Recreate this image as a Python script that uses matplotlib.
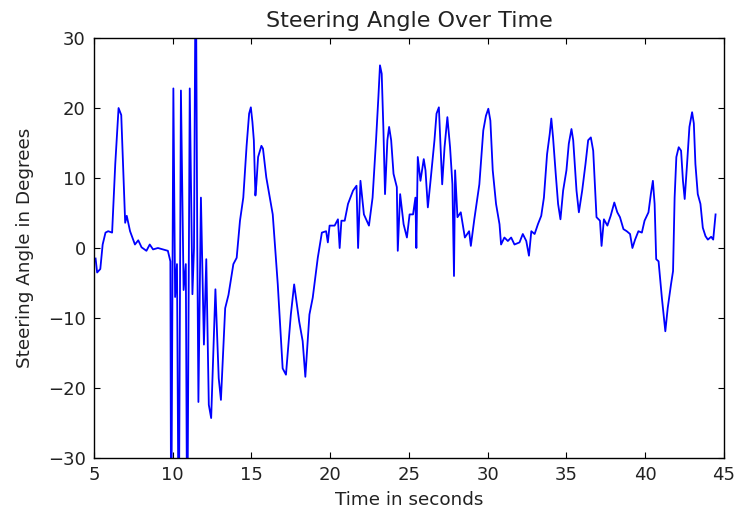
import matplotlib
matplotlib.use('Agg')
import matplotlib.pyplot as plt

# time (s) and steering angle (deg)
time_s = [
    5.1, 5.2, 5.4, 5.55, 5.73, 5.9, 6.15, 6.35, 6.56, 6.73, 6.88, 6.98, 7.08, 7.29,
    7.6, 7.81, 8.02, 8.33, 8.54, 8.75, 9.06, 9.69, 9.85, 9.9, 10.04, 10.15, 10.27,
    10.38, 10.52, 10.69, 10.83, 10.92, 11.08, 11.25, 11.35, 11.46, 11.56, 11.63,
    11.79, 11.98, 12.13, 12.29, 12.44, 12.71, 12.92, 13.06, 13.33, 13.54, 13.85,
    14.06, 14.27, 14.48, 14.69, 14.85, 14.96, 15.06, 15.15, 15.25, 15.31, 15.42,
    15.63, 15.73, 15.94, 16.35, 16.67, 16.98, 17.19, 17.5, 17.71, 18.03, 18.25,
    18.42, 18.68, 18.89, 19.21, 19.47, 19.74, 19.85, 19.96, 20.28, 20.49, 20.6,
    20.71, 20.92, 21.13, 21.45, 21.67, 21.77, 21.92, 22.14, 22.46, 22.69, 22.91,
    23.06, 23.16, 23.27, 23.38, 23.48, 23.63, 23.74, 23.87, 24.02, 24.23, 24.29,
    24.44, 24.66, 24.87, 25.04, 25.26, 25.41, 25.47, 25.56, 25.73, 25.94, 26.05,
    26.2, 26.37, 26.62, 26.75, 26.9, 27.11, 27.26, 27.44, 27.61, 27.76, 27.86,
    27.93, 28.08, 28.29, 28.55, 28.82, 28.93, 29.15, 29.47, 29.72, 29.89, 30.04,
    30.17, 30.32, 30.53, 30.75, 30.85, 31.06, 31.28, 31.49, 31.7, 32.02, 32.23,
    32.45, 32.62, 32.77, 32.98, 33.19, 33.4, 33.57, 33.77, 33.94, 34.04, 34.15,
    34.32, 34.47, 34.62, 34.79, 35.0, 35.15, 35.32, 35.43, 35.64, 35.79, 36.0,
    36.21, 36.38, 36.55, 36.7, 36.91, 37.13, 37.23, 37.38, 37.6, 37.81, 38.04,
    38.23, 38.4, 38.62, 38.83, 39.04, 39.19, 39.36, 39.57, 39.79, 39.96, 40.21,
    40.36, 40.49, 40.6, 40.7, 40.85, 41.06, 41.28, 41.43, 41.64, 41.77, 41.87,
    41.98, 42.13, 42.28, 42.4, 42.51, 42.66, 42.81, 42.98, 43.09, 43.19, 43.34,
    43.51, 43.66, 43.83, 43.98, 44.19, 44.32, 44.47,
]
angle_deg = [
    -1.5, -3.5, -3.0, 0.5, 2.2, 2.4, 2.2, 12.0, 20.0, 19.0, 9.6, 3.6, 4.6, 2.4,
    0.5, 1.1, 0.1, -0.4, 0.5, -0.2, 0.0, -0.4, -1.9, -45.0, 22.8, -7.0, -2.3,
    -45.0, 22.5, -6.0, -2.3, -45.0, 22.8, -6.6, 0.0, 45.0, 0.0, -22.0,
    7.2, -13.8, -1.6, -22.4, -24.3, -5.9, -18.6, -21.7, -8.6, -6.7, -2.3,
    -1.4, 3.9, 7.2, 14.6, 19.2, 20.1, 18.0, 15.4, 7.5, 9.1, 13.0,
    14.6, 14.2, 10.1, 4.8, -5.2, -17.2, -18.1, -9.5, -5.2, -10.5, -13.3,
    -18.4, -9.5, -7.1, -1.4, 2.2, 2.4, 0.8, 3.2, 3.2, 4.1, 0.0,
    3.9, 3.9, 6.3, 8.2, 8.9, 0.0, 9.6, 4.8, 3.2, 7.2, 15.4,
    21.6, 26.1, 24.9, 16.8, 7.7, 15.4, 17.3, 15.4, 10.6, 8.7, -0.4,
    7.7, 3.4, 1.5, 4.8, 4.8, 7.2, 0.0, 13.0, 9.6, 12.7, 11.1,
    5.8, 9.6, 15.4, 19.2, 20.1, 9.1, 14.4, 18.7, 14.4, 9.1, -4.0,
    11.1, 4.4, 5.1, 1.5, 2.4, 0.3, 4.1, 9.1, 16.8, 18.9, 19.9,
    18.2, 11.1, 6.3, 3.4, 0.5, 1.5, 1.0, 1.5, 0.5, 0.8, 2.0,
    1.0, -1.1, 2.4, 2.0, 3.4, 4.6, 7.2, 13.4, 16.3, 18.5, 15.8,
    10.6, 6.3, 4.1, 8.2, 11.1, 14.9, 17.0, 15.4, 8.2, 5.1, 8.2,
    12.0, 15.4, 15.8, 13.9, 4.4, 3.9, 0.3, 4.1, 3.2, 4.6, 6.5,
    5.1, 4.4, 2.7, 2.4, 2.0, 0.0, 1.2, 2.4, 2.2, 3.9, 5.1,
    7.7, 9.6, 6.3, -1.6, -1.9, -7.1, -11.9, -8.6, -5.2, -3.3, 7.2,
    13.0, 14.4, 13.9, 9.6, 7.0, 12.0, 17.3, 19.4, 17.8, 12.0, 7.7,
    6.3, 2.9, 1.7, 1.2, 1.6, 1.2, 4.8,
]

plt.rcParams['font.family'] = 'DejaVu Sans'

fig = plt.figure(figsize=(7.49, 5.14), dpi=100)
fig.patch.set_facecolor('white')
ax = fig.add_axes([0.1255, 0.109, 0.841, 0.817])

ax.plot(time_s, angle_deg, color='b', linewidth=1.3)

ax.set_xlim(5, 45)
ax.set_ylim(-30, 30)
ax.set_xticks(range(5, 46, 5))
ax.set_yticks(range(-30, 31, 10))
ax.tick_params(direction='in', top=True, right=True, length=4,
               labelsize=13, pad=6, labelcolor='#222222')
for s in ax.spines.values():
    s.set_linewidth(1.0)

ax.set_title('Steering Angle Over Time', fontsize=16, color='#222222', pad=8)
ax.set_xlabel('Time in seconds', fontsize=13.2, color='#222222', labelpad=5)
ax.set_ylabel('Steering Angle in Degrees', fontsize=13.2, color='#222222', labelpad=10)

fig.savefig('out.png', dpi=100, facecolor='white')
